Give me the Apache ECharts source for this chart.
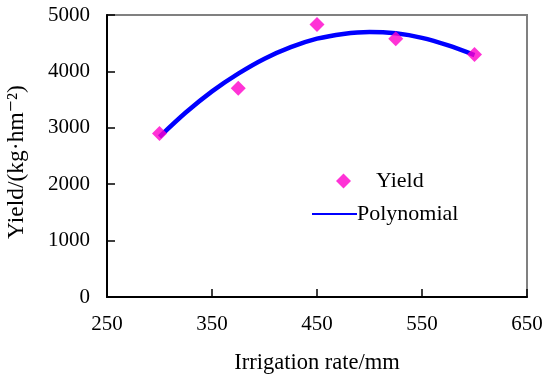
<!DOCTYPE html>
<html><head><meta charset="utf-8">
<script src="https://cdn.jsdelivr.net/npm/echarts@6/dist/echarts.min.js"></script>
<style>html,body{margin:0;padding:0;background:#fff}#c{width:550px;height:380px}</style>
</head><body><div id="c"></div>
<script>
var irrigation = [300, 375, 450, 525, 600];
var yieldValues = [2900, 3700, 4830, 4580, 4300];
var fitX = [300, 325, 350, 375, 400, 425, 450, 475, 500, 525, 550, 575, 600];
var fitY = [2840, 3270, 3645, 3960, 4225, 4430, 4580, 4665, 4700, 4675, 4595, 4460, 4290];
var xTicks = [250, 350, 450, 550, 650];
var yTicks = [0, 1000, 2000, 3000, 4000, 5000];

var font = '"Liberation Serif", "DejaVu Serif", serif';
var chart = echarts.init(document.getElementById('c'));
chart.setOption({
  animation: false,
  backgroundColor: '#fff',
  grid: {left: 107, top: 15, right: 23, bottom: 83, show: true, borderColor: '#808080', borderWidth: 2,
         backgroundColor: 'transparent', containLabel: false, outerBoundsMode: 'none'},
  legend: [
    {data: [{name: 'Yield', icon: 'diamond'}], left: 331, top: 165, itemWidth: 15, itemHeight: 15,
     textStyle: {fontFamily: font, fontSize: 22, color: '#000', padding: [0, 0, 0, 20]}},
    {data: [{name: 'Polynomial', icon: 'rect'}], left: 307, top: 198, itemWidth: 45, itemHeight: 2, itemGap: 0,
     textStyle: {fontFamily: font, fontSize: 22, color: '#000', padding: [0, 0, 0, -5]}}
  ],
  xAxis: {
    type: 'value', min: xTicks[0], max: xTicks[xTicks.length - 1], interval: 100,
    name: 'Irrigation rate/mm', nameLocation: 'middle', nameGap: 55,
    nameTextStyle: {fontFamily: font, fontSize: 22.5, color: '#000'},
    axisLine: {show: true, lineStyle: {color: '#000', width: 2}},
    axisTick: {show: true, inside: true, length: 8, lineStyle: {color: '#000', width: 1.5}},
    axisLabel: {fontFamily: font, fontSize: 21, color: '#000', margin: 17, formatter: function (v) { return String(v); }},
    splitLine: {show: false}
  },
  yAxis: {
    type: 'value', min: yTicks[0], max: yTicks[yTicks.length - 1], interval: 1000,
    name: 'Yield/(kg·hm⁻²)', nameLocation: 'middle', nameGap: 78, nameRotate: 90,
    nameTextStyle: {fontFamily: font, fontSize: 23.5, color: '#000', padding: [0, 12, 0, 0]},
    axisLine: {show: true, lineStyle: {color: '#000', width: 2}},
    axisTick: {show: true, inside: true, length: 8, lineStyle: {color: '#000', width: 1.5}},
    axisLabel: {fontFamily: font, fontSize: 21, color: '#000', margin: 17, formatter: function (v) { return String(v); }},
    splitLine: {show: false}
  },
  series: [
    {name: 'Polynomial', type: 'line', smooth: 0.3, symbol: 'none',
     data: fitX.map(function (x, i) { return [x, fitY[i]]; }),
     lineStyle: {color: '#0000ff', width: 4.5}, itemStyle: {color: '#0000ff'}, z: 2},
    {name: 'Yield', type: 'scatter', symbol: 'diamond', symbolSize: 15,
     data: irrigation.map(function (x, i) { return [x, yieldValues[i]]; }),
     itemStyle: {color: '#ff00cc'}, z: 3}
  ]
});
</script></body></html>
